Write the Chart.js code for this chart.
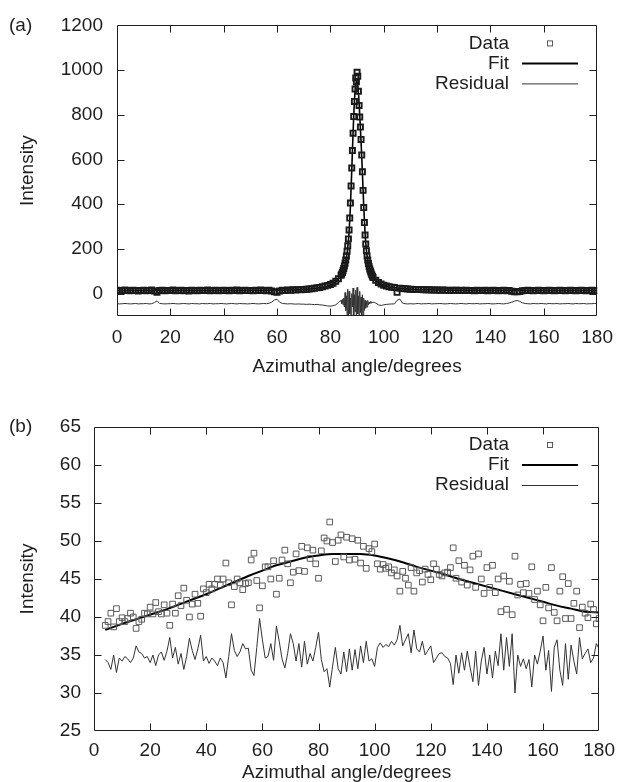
<!DOCTYPE html>
<html>
<head>
<meta charset="utf-8">
<script src="https://cdn.jsdelivr.net/npm/chart.js@4.4.1/dist/chart.umd.min.js"></script>
<style>
  html, body { margin: 0; padding: 0; background: #fff; }
  canvas { display: block; }
</style>
</head>
<body>
<canvas id="chartA" width="623" height="391"></canvas>
<canvas id="chartB" width="623" height="391"></canvas>
<script>
// measurement grids (degrees): 1 deg steps, finer around the peak in (a)
const steps = (from, to, step) => {
	const out = [];
	for (let v = from; v <= to + 1e-9; v += step) out.push(+v.toFixed(2));
	return out;
};
const anglesA = [...steps(0, 83, 1), ...steps(84, 96, 0.25), ...steps(97, 180, 1)];
const anglesB = steps(4, 180, 1);

// ---- panel (a) ----
const dataA = [
	15, 13, 14, 16, 14, 13, 15, 14, 12, 14,
	15, 13, 14, 16, 12, 6, 14, 15, 13, 14,
	14, 16, 13, 14, 15, 13, 14, 12, 15, 14,
	13, 15, 14, 14, 16, 13, 14, 15, 13, 14,
	15, 14, 13, 15, 14, 16, 13, 14, 15, 14,
	14, 13, 15, 14, 16, 14, 13, 15, 12, 8,
	6, 12, 15, 14, 16, 15, 17, 16, 18, 17,
	19, 20, 21, 22, 24, 26, 28, 31, 34, 37,
	41, 47, 55, 67,
	82, 88, 95, 104, 113, 124, 136, 150, 168, 190,
	214, 245, 285, 338, 405, 482, 562, 640, 718, 792,
	860, 915, 965, 948, 990, 972, 905, 842, 790, 745,
	690, 620, 545, 462, 385, 318, 262, 222, 192, 168,
	150, 135, 122, 110, 101, 92, 85, 78, 72,
	60, 50, 43,
	38, 34, 31, 29, 27, 6, 24, 23, 22, 21,
	20, 19, 19, 18, 18, 17, 17, 17, 16, 16,
	16, 15, 16, 15, 15, 14, 15, 15, 14, 15,
	14, 15, 14, 14, 13, 15, 14, 14, 15, 13,
	14, 15, 14, 13, 14, 15, 13, 14, 11, 9,
	8, 10, 13, 14, 15, 14, 13, 14, 15, 14,
	13, 14, 15, 14, 13, 14, 15, 14, 13, 14,
	15, 14, 13, 14, 15, 14, 13, 14, 15, 14, 14,
];
const residA = [
	-45, -46, -45, -44, -45, -46, -45, -44, -46, -45,
	-45, -44, -46, -45, -40, -32, -44, -45, -46, -45,
	-45, -44, -45, -46, -45, -44, -45, -46, -44, -45,
	-45, -46, -44, -45, -45, -44, -46, -45, -45, -44,
	-45, -46, -45, -44, -45, -46, -44, -45, -45, -46,
	-45, -44, -45, -46, -45, -44, -45, -43, -38, -28,
	-25, -38, -44, -45, -46, -45, -46, -47, -46, -47,
	-47, -48, -47, -48, -49, -48, -50, -51, -53, -55,
	-56, -54, -50, -40,
	-30, -45, -25, -50, -20, -60, 5, -75, -10, -95,
	20, -110, 10, -90, -20, -120, 0, -60, 25, -115,
	-5, -80, 15, -120, 28, -90, -10, -120, 10, -85,
	-15, -110, -5, -95, -20, -75, -30, -65, -35, -60,
	-30, -50, -38, -45, -35, -42, -36, -40, -38,
	-42, -50, -53,
	-50, -48, -47, -46, -46, -30, -24, -42, -45, -46,
	-45, -46, -45, -44, -46, -45, -45, -44, -46, -45,
	-45, -44, -45, -46, -45, -44, -45, -46, -45, -44,
	-45, -46, -44, -45, -45, -44, -46, -45, -45, -44,
	-45, -46, -45, -44, -45, -46, -44, -42, -38, -34,
	-30, -35, -41, -44, -45, -46, -44, -45, -45, -44,
	-45, -46, -44, -45, -45, -44, -46, -45, -45, -44,
	-45, -46, -44, -45, -45, -44, -46, -45, -45, -44, -45,
];
const fitAnglesA = [
	0, 20, 40, 60, 65, 70, 74, 77, 79, 80,
	81, 82, 83, 84, 84.5, 85, 85.5, 86, 86.5, 87,
	87.5, 88, 88.5, 89, 89.5, 90, 90.5, 91, 91.5, 92,
	92.5, 93, 93.5, 94, 94.5, 95, 96, 97, 98, 99,
	100, 102, 104, 106, 108, 110, 115, 120, 130, 150, 180,
];
const fitA = [
	14, 14, 14, 15, 16.5, 19, 23, 28, 34, 39,
	45, 53, 64, 80, 92, 108, 130, 160, 205, 275,
	390, 550, 720, 860, 935, 950, 900, 800, 680, 540,
	390, 270, 195, 150, 120, 100, 74, 59, 49, 42,
	37, 31, 27, 24, 22, 20, 17.5, 16, 14.5, 14, 14,
];

// ---- panel (b) ----
const dataB = [
	38.9, 39.4, 40.5, 38.7, 41.1, 39.4, 39.9, 39.4, 39.8, 40.5,
	40.0, 38.5, 39.4, 39.7, 40.5, 40.4, 41.3, 40.4, 41.9, 40.7,
	40.4, 41.6, 40.5, 38.9, 41.7, 40.5, 42.8, 41.5, 43.8, 42.2,
	40.0, 41.7, 43.0, 41.8, 40.1, 43.7, 43.2, 44.3, 43.7, 44.3,
	45.0, 44.2, 45.0, 47.1, 44.5, 41.6, 44.0, 45.0, 44.5, 43.6,
	44.4, 44.5, 47.5, 48.4, 44.8, 41.2, 44.1, 46.6, 46.6, 45.0,
	47.4, 43.0, 45.1, 47.5, 48.8, 47.0, 44.5, 45.9, 48.3, 46.1,
	49.3, 46.0, 49.1, 47.7, 48.8, 47.0, 45.1, 48.7, 50.4, 50.0,
	52.5, 49.8, 47.3, 50.1, 50.8, 47.9, 50.5, 47.5, 50.3, 47.6,
	50.1, 47.1, 49.3, 46.4, 49.0, 48.6, 49.6, 47.0, 46.3, 46.9,
	46.4, 46.6, 45.8, 46.2, 45.4, 43.4, 46.0, 45.1, 44.2, 46.5,
	43.4, 45.8, 46.1, 44.6, 46.3, 45.6, 44.9, 47.0, 46.3, 45.6,
	45.4, 45.8, 45.9, 46.5, 49.1, 45.1, 47.4, 44.6, 46.8, 44.2,
	46.2, 48.0, 43.9, 48.3, 45.0, 43.1, 46.5, 43.9, 46.8, 43.2,
	45.0, 40.7, 45.4, 41.0, 44.7, 40.3, 48.0, 42.9, 44.3, 43.2,
	44.4, 43.1, 46.6, 42.3, 43.4, 41.6, 39.5, 43.9, 41.2, 46.5,
	40.6, 39.5, 43.4, 45.3, 39.8, 44.4, 39.8, 41.8, 43.4, 38.6,
	41.3, 40.5, 39.9, 41.7, 41.0, 39.1, 39.8,
];
const residB = [
	34.4, 34.0, 33.1, 35.0, 32.7, 34.6, 34.2, 34.8, 34.5, 34.0,
	34.6, 36.2, 35.4, 35.2, 34.6, 34.8, 34.0, 35.0, 33.6, 35.0,
	35.4, 34.3, 35.5, 37.3, 34.6, 36.0, 33.8, 35.2, 33.1, 34.8,
	37.2, 35.6, 34.4, 35.8, 37.6, 34.2, 34.8, 33.9, 34.6, 34.2,
	33.6, 34.6, 34.0, 32.0, 34.8, 37.8, 35.6, 34.8, 35.4, 36.5,
	35.8, 35.9, 33.0, 32.3, 36.0, 39.8, 37.0, 34.6, 34.8, 36.5,
	34.3, 38.8, 36.8, 34.5, 33.3, 35.2, 37.8, 36.5, 34.2, 36.5,
	33.4, 36.8, 33.8, 35.2, 34.2, 36.0, 38.0, 34.4, 32.8, 33.2,
	30.8, 33.5, 36.0, 33.2, 32.5, 35.4, 32.8, 35.8, 33.0, 35.7,
	33.2, 36.2, 34.0, 36.8, 34.2, 34.5, 33.5, 36.0, 36.6, 36.0,
	36.4, 36.1, 36.8, 36.3, 37.0, 38.9, 36.2, 37.0, 37.8, 35.3,
	38.3, 35.8, 35.4, 36.8, 35.0, 35.6, 36.2, 34.0, 34.6, 35.2,
	35.3, 34.8, 34.6, 33.9, 31.1, 35.0, 32.6, 35.3, 33.0, 35.5,
	33.4, 31.5, 35.5, 31.0, 34.2, 36.0, 32.5, 35.0, 32.0, 35.5,
	33.6, 37.8, 33.0, 37.3, 33.5, 37.8, 30.0, 35.0, 33.5, 34.5,
	33.2, 34.4, 30.8, 35.0, 33.8, 35.5, 37.5, 33.0, 35.6, 30.2,
	36.0, 37.0, 33.0, 31.0, 36.5, 31.8, 36.3, 34.2, 32.5, 37.3,
	34.5, 35.2, 35.8, 34.0, 34.6, 36.5, 35.8,
];
const fitAnglesB = [
	4, 10, 15, 20, 25, 30, 35, 40, 45, 50,
	55, 60, 65, 70, 75, 80, 85, 90, 95, 100,
	105, 110, 115, 120, 125, 130, 135, 140, 145, 150,
	155, 160, 165, 170, 175, 180,
];
const fitB = [
	38.3, 39.1, 39.7, 40.3, 40.9, 41.6, 42.3, 43.0, 43.8, 44.6,
	45.4, 46.1, 46.8, 47.3, 47.8, 48.1, 48.3, 48.3, 48.3, 48.1,
	47.7, 47.2, 46.6, 46.1, 45.6, 45.0, 44.5, 44.0, 43.5, 43.0,
	42.5, 42.0, 41.5, 41.1, 40.7, 40.6,
];

const xTicks = { min: 0, max: 180, step: 20 };
const legendLabels = ["Data", "Fit", "Residual"];

const FONT = '"Liberation Sans", Arial, sans-serif';
const INK = "#1e1e1e";

const pts = (xs, ys) => xs.map((x, i) => ({ x, y: ys[i] }));

// gnuplot-like frame: full box, inward ticks, key in the top right corner
const framePlugin = {
	id: "frame",
	afterDraw(chart, args, opts) {
		const { ctx, chartArea: a, scales } = chart;
		const L = Math.round(a.left) + 0.5;
		const R = Math.round(a.right) - 0.5;
		const T = Math.round(a.top) + 0.5;
		const B = Math.round(a.bottom) - 0.5;
		const tl = 7;
		ctx.save();
		ctx.strokeStyle = INK;
		ctx.lineWidth = 1;
		ctx.beginPath();
		ctx.rect(L, T, R - L, B - T);
		scales.x.ticks.forEach((t) => {
			if (t.value <= scales.x.min || t.value >= scales.x.max) return;
			const px = Math.round(scales.x.getPixelForValue(t.value)) + 0.5;
			ctx.moveTo(px, B); ctx.lineTo(px, B - tl);
			ctx.moveTo(px, T); ctx.lineTo(px, T + tl);
		});
		scales.y.ticks.forEach((t) => {
			if (t.value <= scales.y.min || t.value >= scales.y.max) return;
			const py = Math.round(scales.y.getPixelForValue(t.value)) + 0.5;
			ctx.moveTo(L, py); ctx.lineTo(L + tl, py);
			ctx.moveTo(R, py); ctx.lineTo(R - tl, py);
		});
		ctx.stroke();

		// panel letter
		ctx.fillStyle = INK;
		ctx.font = `19px ${FONT}`;
		ctx.textBaseline = "middle";
		ctx.textAlign = "left";
		ctx.fillText(opts.letter, 9, a.top);

		// key
		ctx.textAlign = "right";
		const rows = [a.top + 18, a.top + 38, a.top + 58];
		legendLabels.forEach((label, i) => ctx.fillText(label, 509, rows[i]));
		const s = opts.markerSide;
		ctx.strokeStyle = "#5a5a5a";
		ctx.strokeRect(550 - s / 2, rows[0] - s / 2, s, s);
		ctx.strokeStyle = "#000";
		ctx.lineWidth = 2;
		ctx.beginPath(); ctx.moveTo(522, rows[1]); ctx.lineTo(578, rows[1]); ctx.stroke();
		ctx.strokeStyle = "#333";
		ctx.lineWidth = 1;
		ctx.beginPath(); ctx.moveTo(522, rows[2] + 0.5); ctx.lineTo(578, rows[2] + 0.5); ctx.stroke();
		ctx.restore();
	},
};

function makePanel(id, p) {
	return new Chart(document.getElementById(id), {
		type: "scatter",
		data: {
			datasets: [
				{
					label: "Data",
					data: pts(p.angles, p.data),
					pointStyle: "rect",
					pointRadius: p.pointRadius,
					borderWidth: p.pointBorder,
					borderColor: p.pointColor,
					backgroundColor: "rgba(0,0,0,0)",
				},
				{
					label: "Fit",
					data: pts(p.fitAngles, p.fit),
					showLine: true,
					pointRadius: 0,
					borderColor: "#000",
					borderWidth: p.fitWidth,
					cubicInterpolationMode: "monotone",
				},
				{
					label: "Residual",
					data: pts(p.angles, p.resid),
					showLine: true,
					pointRadius: 0,
					borderColor: "#333",
					borderWidth: 1,
					tension: 0,
				},
			],
		},
		options: {
			responsive: false,
			animation: false,
			events: [],
			layout: { padding: { top: p.top, right: 21, left: 0, bottom: 0 } },
			scales: {
				x: {
					type: "linear",
					min: xTicks.min,
					max: xTicks.max,
					grid: { display: false, drawTicks: false },
					border: { display: false },
					ticks: {
						stepSize: xTicks.step,
						autoSkip: false,
						maxRotation: 0,
						padding: p.xPad,
						color: INK,
						font: { family: FONT, size: 19 },
					},
					title: {
						display: true,
						text: "Azimuthal angle/degrees",
						color: INK,
						font: { family: FONT, size: 19, lineHeight: 1 },
						padding: { top: 0, bottom: p.xTitlePad },
					},
					afterFit: (s) => { s.height = p.xHeight; },
				},
				y: {
					type: "linear",
					min: p.yMin,
					max: p.yMax,
					grid: { display: false, drawTicks: false },
					border: { display: false },
					ticks: {
						stepSize: p.yStep,
						includeBounds: false,
						format: { useGrouping: false },
						padding: p.yPad,
						color: INK,
						font: { family: FONT, size: 19 },
					},
					title: {
						display: true,
						text: "Intensity",
						color: INK,
						font: { family: FONT, size: 19, lineHeight: 1 },
						padding: { top: 18, bottom: 0 },
					},
					afterFit: (s) => { s.width = p.yWidth; },
				},
			},
			plugins: {
				legend: { display: false },
				tooltip: { enabled: false },
				frame: { letter: p.letter, markerSide: p.markerSide },
			},
		},
		plugins: [framePlugin],
	});
}

makePanel("chartA", {
	letter: "(a)",
	angles: anglesA, data: dataA, resid: residA,
	fitAngles: fitAnglesA, fit: fitA,
	yMin: -100, yMax: 1200, yStep: 200,
	top: 21, yWidth: 117, xHeight: 75, xTitlePad: 15, yPad: 14, xPad: 10,
	pointRadius: 3.6, pointBorder: 1.9, pointColor: "#1a1a1a", fitWidth: 1.6,
	markerSide: 5,
});

makePanel("chartB", {
	letter: "(b)",
	angles: anglesB, data: dataB, resid: residB,
	fitAngles: fitAnglesB, fit: fitB,
	yMin: 25, yMax: 65, yStep: 5,
	top: 36, yWidth: 94, xHeight: 51, xTitlePad: 0, yPad: 13, xPad: 8,
	pointRadius: 4, pointBorder: 1, pointColor: "#5a5a5a", fitWidth: 2,
	markerSide: 5,
});
</script>
</body>
</html>
